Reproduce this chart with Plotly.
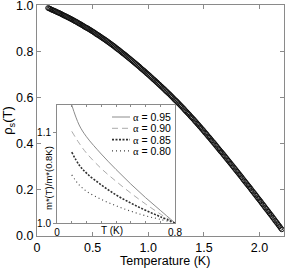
import plotly.graph_objects as go

# ---------------- data ----------------
temperature = [
    0.10, 0.11, 0.12, 0.13, 0.14, 0.15, 0.16, 0.17, 0.18, 0.19,
    0.20, 0.21, 0.22, 0.23, 0.24, 0.25, 0.26, 0.27, 0.28, 0.29,
    0.30, 0.31, 0.32, 0.33, 0.34, 0.35, 0.36, 0.37, 0.38, 0.39,
    0.40, 0.41, 0.42, 0.43, 0.44, 0.45, 0.46, 0.47, 0.48, 0.49,
    0.50, 0.51, 0.52, 0.53, 0.54, 0.55, 0.56, 0.57, 0.58, 0.59,
    0.60, 0.61, 0.62, 0.63, 0.64, 0.65, 0.66, 0.67, 0.68, 0.69,
    0.70, 0.71, 0.72, 0.73, 0.74, 0.75, 0.76, 0.77, 0.78, 0.79,
    0.80, 0.81, 0.82, 0.83, 0.84, 0.85, 0.86, 0.87, 0.88, 0.89,
    0.90, 0.91, 0.92, 0.93, 0.94, 0.95, 0.96, 0.97, 0.98, 0.99,
    1.00, 1.01, 1.02, 1.03, 1.04, 1.05, 1.06, 1.07, 1.08, 1.09,
    1.10, 1.11, 1.12, 1.13, 1.14, 1.15, 1.16, 1.17, 1.18, 1.19,
    1.20, 1.21, 1.22, 1.23, 1.24, 1.25, 1.26, 1.27, 1.28, 1.29,
    1.30, 1.31, 1.32, 1.33, 1.34, 1.35, 1.36, 1.37, 1.38, 1.39,
    1.40, 1.41, 1.42, 1.43, 1.44, 1.45, 1.46, 1.47, 1.48, 1.49,
    1.50, 1.51, 1.52, 1.53, 1.54, 1.55, 1.56, 1.57, 1.58, 1.59,
    1.60, 1.61, 1.62, 1.63, 1.64, 1.65, 1.66, 1.67, 1.68, 1.69,
    1.70, 1.71, 1.72, 1.73, 1.74, 1.75, 1.76, 1.77, 1.78, 1.79,
    1.80, 1.81, 1.82, 1.83, 1.84, 1.85, 1.86, 1.87, 1.88, 1.89,
    1.90, 1.91, 1.92, 1.93, 1.94, 1.95, 1.96, 1.97, 1.98, 1.99,
    2.00, 2.01, 2.02, 2.03, 2.04, 2.05, 2.06, 2.07, 2.08, 2.09,
    2.10, 2.11, 2.12, 2.13, 2.14, 2.15, 2.16, 2.17, 2.18, 2.19,
    2.20,
]
rho_s = [
    0.990, 0.988, 0.986, 0.983, 0.981, 0.979, 0.977, 0.975, 0.972, 0.970,
    0.968, 0.966, 0.963, 0.961, 0.958, 0.956, 0.954, 0.951, 0.949, 0.946,
    0.944, 0.941, 0.939, 0.936, 0.933, 0.931, 0.928, 0.925, 0.922, 0.920,
    0.917, 0.914, 0.911, 0.908, 0.905, 0.903, 0.900, 0.897, 0.894, 0.891,
    0.888, 0.885, 0.882, 0.878, 0.875, 0.872, 0.869, 0.866, 0.862, 0.859,
    0.856, 0.853, 0.849, 0.846, 0.842, 0.839, 0.835, 0.832, 0.828, 0.825,
    0.821, 0.817, 0.813, 0.810, 0.806, 0.802, 0.798, 0.794, 0.791, 0.787,
    0.783, 0.779, 0.775, 0.771, 0.767, 0.763, 0.759, 0.755, 0.751, 0.747,
    0.743, 0.739, 0.735, 0.730, 0.726, 0.722, 0.718, 0.714, 0.709, 0.705,
    0.701, 0.697, 0.692, 0.688, 0.683, 0.679, 0.675, 0.670, 0.666, 0.661,
    0.657, 0.652, 0.648, 0.643, 0.639, 0.634, 0.629, 0.625, 0.620, 0.616,
    0.611, 0.606, 0.601, 0.596, 0.591, 0.587, 0.582, 0.577, 0.572, 0.567,
    0.562, 0.557, 0.552, 0.546, 0.541, 0.536, 0.531, 0.526, 0.520, 0.515,
    0.510, 0.505, 0.499, 0.494, 0.488, 0.483, 0.477, 0.472, 0.466, 0.461,
    0.455, 0.449, 0.444, 0.438, 0.432, 0.427, 0.421, 0.415, 0.409, 0.404,
    0.398, 0.392, 0.386, 0.380, 0.374, 0.368, 0.363, 0.357, 0.351, 0.345,
    0.339, 0.333, 0.327, 0.321, 0.315, 0.309, 0.303, 0.297, 0.291, 0.285,
    0.279, 0.273, 0.267, 0.261, 0.255, 0.248, 0.242, 0.236, 0.230, 0.224,
    0.218, 0.212, 0.206, 0.199, 0.193, 0.187, 0.181, 0.175, 0.168, 0.162,
    0.156, 0.150, 0.143, 0.137, 0.131, 0.124, 0.118, 0.112, 0.106, 0.099,
    0.093, 0.087, 0.080, 0.074, 0.067, 0.061, 0.055, 0.048, 0.042, 0.035,
    0.029,
]

main_xtick_vals = [0, 0.5, 1.0, 1.5, 2.0]
main_xtick_text = ["0", "0.5", "1.0", "1.5", "2.0"]
main_ytick_vals = [0.0, 0.2, 0.4, 0.6, 0.8, 1.0]
main_ytick_text = ["0.0", "0.2", "0.4", "0.6", "0.8", "1.0"]

# inset: effective mass ratio m*(T)/m*(0.8K) for several alpha
inset_T = [0.10, 0.15, 0.20, 0.30, 0.40, 0.50, 0.60, 0.70, 0.80]
alphas = ["0.95", "0.90", "0.85", "0.80"]
mass_a095 = [1.130, 1.108, 1.095, 1.076, 1.059, 1.043, 1.028, 1.014, 1.000]
mass_a090 = [1.101, 1.088, 1.077, 1.060, 1.046, 1.033, 1.021, 1.010, 1.000]
mass_a085 = [1.078, 1.064, 1.055, 1.042, 1.031, 1.022, 1.014, 1.007, 1.000]
mass_a080 = [1.053, 1.042, 1.035, 1.026, 1.019, 1.013, 1.008, 1.004, 1.000]
inset_series = [mass_a095, mass_a090, mass_a085, mass_a080]

inset_xtick_vals = [0, 0.8]
inset_xtick_text = ["0", "0.8"]
inset_ytick_vals = [1.0, 1.1]
inset_ytick_text = ["1.0", "1.1"]

# ---------------- styles ----------------
FONT = "Liberation Sans, Arial, sans-serif"
AXIS_GRAY = "#8a8a8a"
inset_styles = [
    dict(color="#8c8c8c", width=1.0, dash="solid"),
    dict(color="#ababab", width=1.0, dash="6px,4px"),
    dict(color="#303030", width=1.6, dash="2px,1.5px"),
    dict(color="#404040", width=1.1, dash="1px,3px"),
]

fig = go.Figure()

fig.add_trace(go.Scatter(
    x=temperature, y=rho_s, mode="markers",
    marker=dict(symbol="circle-open", size=4.8, color="#111111",
                line=dict(width=1.0, color="#111111")),
    xaxis="x", yaxis="y", showlegend=False,
))

for vals, sty in zip(inset_series, inset_styles):
    fig.add_trace(go.Scatter(
        x=inset_T, y=vals, mode="lines", line=dict(shape="spline", **sty),
        xaxis="x2", yaxis="y2", showlegend=False,
    ))

# plot-area pixel geometry (for placing inset texts / legend)
W, H = 289, 269
L, R, T, B = 37, 5, 5, 33
pw, ph = W - L - R, H - T - B


def px(xp):
    return (xp - L) / pw


def py(yp):
    return (H - B - yp) / ph


common = dict(showgrid=False, zeroline=False, automargin=False, showline=True,
              linecolor=AXIS_GRAY, linewidth=1, tickcolor=AXIS_GRAY)

fig.update_layout(
    width=W, height=H, autosize=False,
    margin=dict(l=L, r=R, t=T, b=B, pad=0),
    paper_bgcolor="white", plot_bgcolor="white",
    font=dict(family=FONT, color="black", size=12),
    xaxis=dict(
        domain=[0, 1], range=[0, 2.22], tickvals=main_xtick_vals, ticktext=main_xtick_text,
        ticks="inside", ticklen=4, mirror="ticks", tickfont=dict(size=12.5), **common,
    ),
    yaxis=dict(
        domain=[0, 1], range=[0, 1.003], tickvals=main_ytick_vals, ticktext=main_ytick_text,
        ticks="inside", ticklen=4, mirror="ticks", tickfont=dict(size=12.5),
        ticklabeloverflow="allow",
        title=dict(text="ρ<sub>s</sub>(T)", font=dict(size=13), standoff=4), **common,
    ),
    xaxis2=dict(
        domain=[px(57), px(175)], anchor="y2", range=[0, 0.8],
        tickvals=inset_xtick_vals, ticktext=inset_xtick_text,
        ticks="inside", ticklen=3,
        minor=dict(dtick=0.1, tick0=0, ticks="inside", ticklen=2, tickcolor=AXIS_GRAY),
        mirror="ticks", tickfont=dict(size=10), **common,
    ),
    yaxis2=dict(
        domain=[py(223), py(105)], anchor="x2", range=[1.0, 1.13],
        tickvals=inset_ytick_vals, ticktext=inset_ytick_text,
        ticks="outside", ticklen=3, mirror=True, tickfont=dict(size=10), **common,
    ),
)

# main x-axis title
fig.add_annotation(x=px(165), y=py(261), xref="paper", yref="paper",
                   text="Temperature (K)", showarrow=False, font=dict(size=12.5),
                   xanchor="center", yanchor="middle")

# inset axis titles
fig.add_annotation(x=px(48), y=py(178), xref="paper", yref="paper",
                   text="m*(T)/m*(0.8K)", textangle=-90, showarrow=False,
                   font=dict(size=9.5), xanchor="center", yanchor="middle")
fig.add_annotation(x=px(112), y=py(230), xref="paper", yref="paper",
                   text="T (K)", showarrow=False, font=dict(size=10),
                   xanchor="center", yanchor="middle")

# inset legend (drawn manually, compact like the original)
for i, (a, sty) in enumerate(zip(alphas, inset_styles)):
    yy = py(117 + 11.3 * i)
    fig.add_shape(type="line", xref="paper", yref="paper",
                  x0=px(112), x1=px(130), y0=yy, y1=yy,
                  line=dict(color=sty["color"], width=sty["width"], dash=sty["dash"]))
    fig.add_annotation(x=px(131), y=yy, xref="paper", yref="paper",
                       text="<span style='font-family:Liberation Serif'>α</span> = " + a,
                       showarrow=False, font=dict(size=10.5),
                       xanchor="left", yanchor="middle")

fig.write_html(
    "out.html",
    config={"displayModeBar": False},
    post_script="document.body.style.margin='0';document.body.style.padding='0';",
)
